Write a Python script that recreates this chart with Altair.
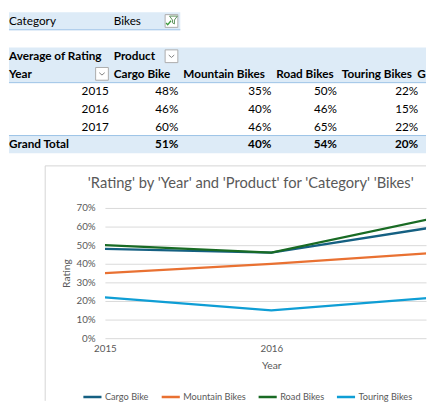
import altair as alt
import pandas as pd

# ---------------- data ----------------
filter_field = "Category"
filter_value = "Bikes"
value_label = "Average of Rating"
column_field = "Product"
row_field = "Year"
total_label = "Grand Total"

years = [2015, 2016, 2017]
products = ["Cargo Bike", "Mountain Bikes", "Road Bikes", "Touring Bikes"]
cargo_bike = [0.48, 0.46, 0.60]
mountain_bikes = [0.35, 0.40, 0.46]
road_bikes = [0.50, 0.46, 0.65]
touring_bikes = [0.22, 0.15, 0.22]
grand_total = [0.51, 0.40, 0.54, 0.20]
series = [cargo_bike, mountain_bikes, road_bikes, touring_bikes]
y_ticks = [0, 0.1, 0.2, 0.3, 0.4, 0.5, 0.6, 0.7]
x_ticks = [2015, 2016]
title_text = "'Rating' by 'Year' and 'Product' for 'Category' 'Bikes'"

# ---------------- style / layout (pixels relative to the plot area) ----------------
colors = ["#156082", "#E97132", "#196B24", "#0F9ED5"]
FONT = "Lato"
GREY = "#595959"
HEADER_BG = "#DDEBF7"
BORDER = "#9BC2E6"
FRAME = "#D4D4D4"
PLOT_W, PLOT_H = 328, 133
YEAR_STEP_PX = 170                      # pixel distance between successive years
x_end = years[0] + PLOT_W / YEAR_STEP_PX  # visible (cropped) part of the year axis

ROWS = ["filter", "gap", "h1", "h2"] + [str(y) for y in years] + ["total"]
TABLE_RANGE = [-200, -56]               # vertical band of the pivot table
COL_EDGES = [-98, 6, 77, 172, 239, 322, 328]
LEFT_PAD = [0, 3, 3, 3, 3, -3]
RIGHT_PAD = 2

# ---------------- pivot table cells ----------------
cells = []
cells.append((0, "filter", filter_field, "left", False))
cells.append((0, "h1", value_label, "left", True))
cells.append((0, "h2", row_field, "left", True))
for y in years:
    cells.append((0, str(y), str(y), "right", False))
cells.append((0, "total", total_label, "left", True))
cells.append((1, "filter", filter_value, "left", False))
cells.append((1, "h1", column_field, "left", True))
for i, p in enumerate(products):
    ci = i + 1
    cells.append((ci, "h2", p, "left", True))
    for y, v in zip(years, series[i]):
        cells.append((ci, str(y), f"{v:.0%}", "right", False))
    cells.append((ci, "total", f"{grand_total[i]:.0%}", "right", True))
cells.append((5, "h2", total_label, "left", True))
cells = pd.DataFrame(cells, columns=["col", "row", "label", "halign", "bold"])


def yrow(band_pos=None):
    kw = {}
    if band_pos is not None:
        kw["bandPosition"] = band_pos
    return alt.Y("row:N", axis=None,
                 scale=alt.Scale(domain=ROWS, range=TABLE_RANGE, paddingInner=0, paddingOuter=0),
                 **kw)


layers = []
# backgrounds
layers.append(alt.Chart(pd.DataFrame({"row": ["filter"]})).mark_rect(color=HEADER_BG).encode(
    y=yrow(), x=alt.value(COL_EDGES[0]), x2=alt.value(COL_EDGES[2])))
layers.append(alt.Chart(pd.DataFrame({"row": ["h1", "h2", "total"]})).mark_rect(color=HEADER_BG).encode(
    y=yrow(), x=alt.value(COL_EDGES[0]), x2=alt.value(COL_EDGES[-1])))
# borders
layers.append(alt.Chart(pd.DataFrame({"row": ["filter"]})).mark_rule(color=BORDER).encode(
    y=yrow(1), x=alt.value(COL_EDGES[0]), x2=alt.value(COL_EDGES[2])))
layers.append(alt.Chart(pd.DataFrame({"row": ["h2", str(years[-1])]})).mark_rule(color=BORDER).encode(
    y=yrow(1), x=alt.value(COL_EDGES[0]), x2=alt.value(COL_EDGES[-1])))
# texts
last = len(COL_EDGES) - 2
for ci in range(len(COL_EDGES) - 1):
    for halign in ["left", "right"]:
        for bold in [False, True]:
            sub = cells[(cells["col"] == ci) & (cells["halign"] == halign) & (cells["bold"] == bold)]
            if len(sub) == 0:
                continue
            xp = COL_EDGES[ci] + LEFT_PAD[ci] if halign == "left" else COL_EDGES[ci + 1] - RIGHT_PAD
            # the last column is cut by the picture's edge
            kw = {"limit": 9, "ellipsis": "\u200b"} if ci == last else {}
            layers.append(alt.Chart(sub).mark_text(
                align=halign, baseline="middle", font=FONT, fontSize=12,
                fontWeight="bold" if bold else "normal", color="#000000", **kw
            ).encode(y=yrow(), x=alt.value(xp), text="label:N"))
# drop-down / filter buttons
for row, bx, kind in [("h2", COL_EDGES[1] - 9, "drop"), ("h1", COL_EDGES[2] - 9, "drop"),
                      ("filter", COL_EDGES[2] - 9, "filter")]:
    bdf = pd.DataFrame({"row": [row]})
    layers.append(alt.Chart(bdf).mark_point(
        shape="square", size=169, filled=True, fill="#FFFFFF", stroke="#ABABAB",
        strokeWidth=1, opacity=1).encode(y=yrow(), x=alt.value(bx)))
    if kind == "drop":
        layers.append(alt.Chart(bdf).mark_point(
            shape="M-0.8,-0.35L0,0.35L0.8,-0.35", size=49, filled=False,
            stroke="#808080", strokeWidth=1, opacity=1).encode(y=yrow(), x=alt.value(bx)))
    else:
        layers.append(alt.Chart(bdf).mark_point(
            shape="M-1,0L-0.35,0.7L1,-0.9", size=25, filled=False,
            stroke="#3C9A3C", strokeWidth=1.3, opacity=1, xOffset=-3, yOffset=2
        ).encode(y=yrow(), x=alt.value(bx)))
        layers.append(alt.Chart(bdf).mark_point(
            shape="M-1,-1L1,-1L0.25,0L0.25,1L-0.25,0.7L-0.25,0Z", size=64, filled=False,
            stroke="#5B8F5B", strokeWidth=1, opacity=1, xOffset=2, yOffset=-1
        ).encode(y=yrow(), x=alt.value(bx)))

# ---------------- chart area frame ----------------
one = pd.DataFrame({"k": [0]})
layers.append(alt.Chart(one).mark_rule(color=FRAME).encode(
    x=alt.value(-61), x2=alt.value(PLOT_W), y=alt.value(-43)))
layers.append(alt.Chart(one).mark_rule(color=FRAME).encode(
    x=alt.value(-61), y=alt.value(-43), y2=alt.value(197)))

# ---------------- line chart ----------------
line_df = pd.DataFrame(
    [{"Year": y, "Product": p, "Rating": v}
     for p, vals in zip(products, series) for y, v in zip(years, vals)]
)
lines = alt.Chart(line_df).mark_line(strokeWidth=2.3, clip=True).encode(
    x=alt.X("Year:Q", scale=alt.Scale(domain=[years[0], x_end], nice=False, zero=False),
            axis=alt.Axis(title="Year", values=x_ticks, format="d", labelFlush=False,
                          ticks=False, tickSize=0, domain=False, grid=False,
                          labelPadding=6, titlePadding=7, titleX=170)),
    y=alt.Y("Rating:Q", scale=alt.Scale(domain=[0, 0.7], nice=False),
            axis=alt.Axis(title="Rating", format=".0%", values=y_ticks, grid=True,
                          gridColor="#D9D9D9", domain=False, ticks=False, tickSize=0,
                          labelPadding=10, titlePadding=5)),
    color=alt.Color("Product:N", sort=products,
                    scale=alt.Scale(domain=products, range=colors),
                    legend=alt.Legend(title=None, orient="none", direction="horizontal",
                                      legendX=-22, legendY=188, padding=0,
                                      symbolType="M-2.4,0L2.4,0", symbolSize=100, clipHeight=10,
                                      symbolStrokeWidth=2.5, labelOffset=9,
                                      columnPadding=13, labelFont=FONT,
                                      labelFontSize=9.4, labelColor=GREY, labelLimit=200)),
)
layers.append(lines)

chart = alt.layer(*layers).resolve_scale(y="independent").properties(
    width=PLOT_W, height=PLOT_H, padding=0, background="#FFFFFF",
    title=alt.TitleParams(title_text, font=FONT, fontSize=15, fontWeight="normal",
                          color=GREY, anchor="middle", dx=-15, offset=-183),
).configure_view(strokeWidth=0).configure_axis(
    labelFont=FONT, titleFont=FONT, labelColor=GREY, titleColor=GREY,
    labelFontSize=10, titleFontSize=10.5, titleFontWeight="normal"
)

chart.save("out.html", embed_options={"renderer": "svg", "actions": False})
